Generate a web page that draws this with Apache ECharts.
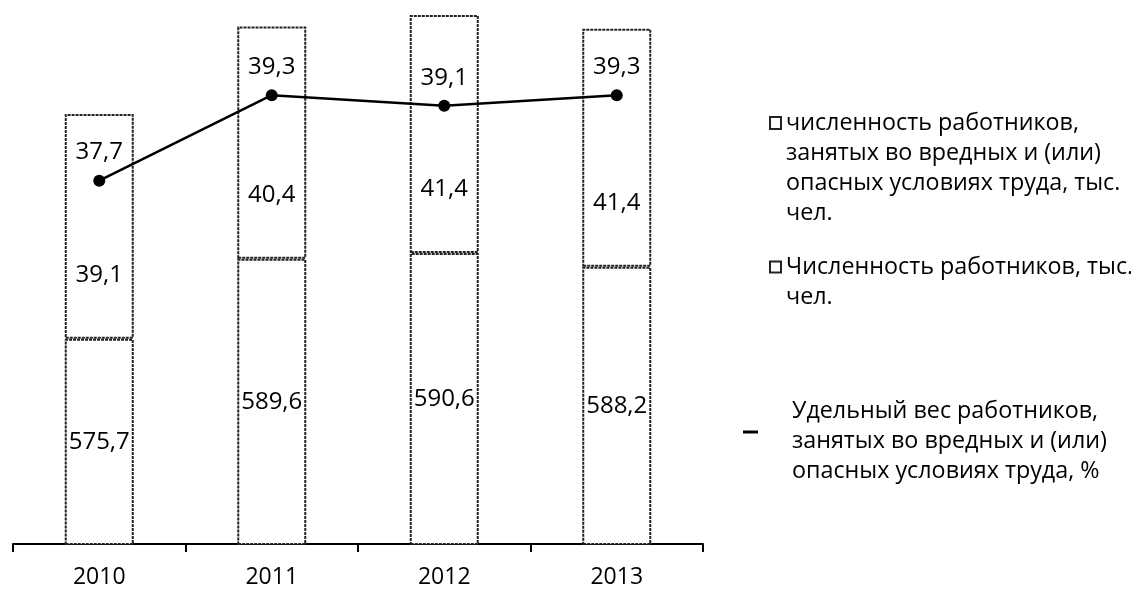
<!DOCTYPE html>
<html>
<head>
<meta charset="utf-8">
<script src="https://cdn.jsdelivr.net/npm/echarts@6/dist/echarts.min.js"></script>
<style>
html,body{margin:0;padding:0;background:#fff;}
#chart{width:1131px;height:589px;}
</style>
</head>
<body>
<div id="chart"></div>
<script>
const years = ['2010', '2011', '2012', '2013'];
const totalWorkers = [575.7, 589.6, 590.6, 588.2];
const hazardWorkers = [39.1, 40.4, 41.4, 41.4];
const hazardShare = [37.7, 39.3, 39.1, 39.3];

const nameTotal = 'Численность работников, тыс. чел.';
const nameHazard = 'численность работников, занятых во вредных и (или) опасных условиях труда, тыс. чел.';
const nameShare = 'Удельный вес работников, занятых во вредных и (или) опасных условиях труда, %';

const legendLinesHazard = ['численность работников,', 'занятых во вредных и (или)', 'опасных условиях труда, тыс.', 'чел.'];
const legendLinesTotal = ['Численность работников, тыс.', 'чел.'];
const legendLinesShare = ['Удельный вес работников,', 'занятых во вредных и (или)', 'опасных условиях труда, %'];

const FONT = 'Open Sans';
const LFS = 23.3;
const fmt = v => v.toFixed(1).replace('.', ',');

const barItem = {
  color: '#ffffff',
  borderColor: '#222',
  borderWidth: 2,
  borderType: [3, 1]
};

const legendRich = {
  s: { fontSize: 10, lineHeight: 18 },
  t: { fontFamily: FONT, fontSize: LFS, lineHeight: 30, color: '#000', padding: [0, 0, 0, 29] }
};

function legendText() {
  return { fontFamily: FONT, fontSize: LFS, lineHeight: 30, color: '#000', rich: legendRich };
}

const chart = echarts.init(document.getElementById('chart'));
chart.setOption({
  animation: false,
  backgroundColor: '#fff',
  textStyle: { fontFamily: FONT },
  grid: { left: 13, right: 428, top: 15, bottom: 44 },
  legend: [
    {
      data: [nameHazard], left: 769, top: 18, orient: 'vertical', padding: 0,
      itemWidth: 11, itemHeight: 12, icon: 'rect', selectedMode: false,
      formatter: () => '\n\n\n' + legendLinesHazard.join('\n'),
      textStyle: legendText()
    },
    {
      data: [nameTotal], left: 769, top: 222, orient: 'vertical', padding: 0,
      itemWidth: 11, itemHeight: 11, icon: 'rect', selectedMode: false,
      formatter: () => '\n' + legendLinesTotal.join('\n'),
      textStyle: legendText()
    },
    {
      data: [nameShare], left: 743, top: 378, orient: 'vertical', padding: 0,
      itemWidth: 15, itemHeight: 3, icon: 'rect', selectedMode: false,
      formatter: () => '{s| }\n' + legendLinesShare.map(l => '{t|' + l + '}').join('\n'),
      textStyle: legendText()
    }
  ],
  xAxis: {
    type: 'category',
    data: years,
    axisLine: { lineStyle: { color: '#000', width: 2 } },
    axisTick: { show: true, length: 8, lineStyle: { color: '#000', width: 2 } },
    axisLabel: { color: '#000', fontFamily: FONT, fontSize: 23, margin: 22 }
  },
  yAxis: [
    { type: 'value', min: 540, max: 632, show: false, splitLine: { show: false } },
    { type: 'value', min: 30.9, max: 40.8, show: false, splitLine: { show: false } }
  ],
  series: [
    {
      name: nameTotal, type: 'bar', stack: 'w', data: totalWorkers, barWidth: 69,
      itemStyle: barItem,
      label: {
        show: true, position: 'inside', color: '#000', fontFamily: FONT, fontSize: 24,
        formatter: p => fmt(p.value)
      }
    },
    {
      name: nameHazard, type: 'bar', stack: 'w', data: hazardWorkers, barWidth: 69,
      itemStyle: barItem,
      label: {
        show: true, position: 'insideBottom', distance: 52, color: '#000', fontFamily: FONT, fontSize: 24,
        formatter: p => fmt(p.value)
      }
    },
    {
      name: nameShare, type: 'line', yAxisIndex: 1, data: hazardShare, z: 5,
      symbol: 'circle', symbolSize: 12,
      lineStyle: { color: '#000', width: 2.5 },
      itemStyle: { color: '#000' },
      label: {
        show: true, position: 'top', distance: 10, color: '#000', fontFamily: FONT, fontSize: 24,
        formatter: p => fmt(p.value)
      }
    }
  ]
});
</script>
</body>
</html>
